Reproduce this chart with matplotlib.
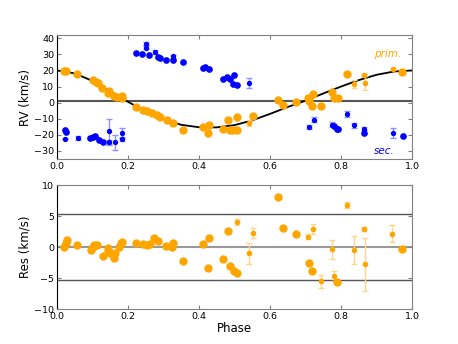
import numpy as np
import matplotlib
matplotlib.use("Agg")
import matplotlib.pyplot as plt

# orbit model curve
curve_phase = [0.00, 0.05, 0.10, 0.15, 0.20, 0.25, 0.30, 0.35, 0.40, 0.45, 0.50,
               0.55, 0.60, 0.65, 0.70, 0.75, 0.80, 0.85, 0.90, 0.95, 1.00]
curve_rv = [20.0, 18.2, 13.5, 7.0, 0.5, -5.5, -10.3, -13.8, -15.3, -15.4, -14.0,
            -11.0, -7.0, -2.7, 1.2, 5.7, 10.0, 14.0, 17.3, 19.4, 20.0]

gamma = 1.2
res_band = 5.3

# primary star RVs (phase, rv, err; err 0 = no bar)
prim_phase = [0.020, 0.025, 0.057, 0.100, 0.109, 0.115, 0.128, 0.143, 0.146, 0.161,
              0.168, 0.182, 0.184, 0.223, 0.243, 0.253, 0.267, 0.281, 0.290, 0.309,
              0.328, 0.356, 0.412, 0.424, 0.428, 0.469, 0.481, 0.487, 0.497, 0.506,
              0.506, 0.541, 0.553, 0.622, 0.638, 0.672, 0.708, 0.711, 0.719, 0.722,
              0.744, 0.776, 0.781, 0.791, 0.818, 0.837, 0.866, 0.868, 0.947, 0.973]
prim_rv = [19.8, 19.5, 18.1, 14.0, 13.0, 12.0, 8.9, 5.8, 7.4, 4.3,
           3.7, 4.1, 2.7, -2.5, -4.5, -5.5, -6.2, -7.6, -9.2, -11.1,
           -12.7, -16.9, -15.2, -18.9, -14.2, -16.4, -11.1, -16.9, -17.2, -9.2,
           -17.2, -12.7, -8.6, 1.7, -1.4, 0.2, 2.7, 1.0, -2.0, 5.2,
           -2.0, 6.8, 2.7, 2.7, 17.5, 11.5, 17.1, 12.0, 21.2, 19.1]
prim_err = [0, 0, 0, 0, 0, 0, 0, 0, 0, 0,
            0, 0, 0, 0, 0, 0, 0, 0, 0, 0,
            0, 0, 0, 0, 0, 0, 0, 0, 0, 0,
            0, 1.7, 0, 0, 0, 0, 0, 0, 0, 0,
            0, 0, 0, 0, 0, 2.5, 0.5, 4.4, 0.6, 0]

# secondary star RVs
sec_phase = [0.023, 0.024, 0.023, 0.058, 0.093, 0.100, 0.107, 0.117, 0.129, 0.146,
             0.146, 0.163, 0.182, 0.182, 0.222, 0.240, 0.250, 0.250, 0.259, 0.276,
             0.284, 0.290, 0.307, 0.326, 0.326, 0.356, 0.410, 0.416, 0.429, 0.467,
             0.478, 0.487, 0.500, 0.497, 0.506, 0.541, 0.710, 0.723, 0.776, 0.781,
             0.788, 0.792, 0.818, 0.837, 0.866, 0.866, 0.947, 0.974]
sec_rv = [-16.9, -18.5, -22.4, -22.0, -22.0, -21.4, -20.6, -23.0, -24.5, -17.9,
          -24.7, -24.7, -18.9, -22.6, 30.9, 30.5, 34.2, 36.7, 29.4, 31.5,
          28.4, 28.0, 26.4, 28.8, 26.8, 25.1, 21.8, 22.2, 20.8, 14.4,
          16.0, 15.0, 17.1, 11.5, 11.0, 12.3, -15.2, -10.7, -13.8, -14.6,
          -16.2, -16.7, -7.2, -14.2, -16.2, -18.9, -18.9, -21.0]
sec_err = [0, 0, 0.5, 1.0, 0, 0, 0, 0, 0, 8.0,
           1.5, 4.7, 3.3, 1.5, 0, 0, 1.0, 0.8, 0, 1.0,
           0, 0, 0, 0.8, 0, 0, 0, 0, 0, 0,
           0, 0, 0, 0, 0, 3.0, 1.2, 1.5, 1.5, 0,
           0, 0, 1.7, 1.7, 1.0, 0, 3.0, 0]

# residuals of the primary
res_phase = [0.021, 0.025, 0.027, 0.057, 0.096, 0.100, 0.105, 0.112, 0.129, 0.145,
             0.145, 0.150, 0.161, 0.163, 0.176, 0.180, 0.182, 0.222, 0.243, 0.253,
             0.262, 0.274, 0.285, 0.308, 0.325, 0.326, 0.356, 0.412, 0.426, 0.429,
             0.467, 0.481, 0.487, 0.498, 0.506, 0.508, 0.541, 0.553, 0.622, 0.638,
             0.672, 0.708, 0.709, 0.719, 0.722, 0.744, 0.776, 0.780, 0.789, 0.817,
             0.836, 0.865, 0.867, 0.945, 0.972]
res_val = [0.1, 0.7, 1.2, 0.35, -0.45, 0.0, 0.3, 0.3, -1.4, -0.2,
           -0.6, -1.0, -1.8, -0.9, 0.1, 0.6, 0.9, 0.6, 0.5, 0.35,
           0.5, 1.4, 1.0, 0.25, 0.1, 0.6, -2.3, 0.45, -3.4, 1.4,
           -1.9, 2.65, -3.0, -3.8, 4.1, -4.2, -1.0, 2.35, 8.0, 3.1,
           2.1, 1.7, -2.5, -3.9, 2.9, -5.5, -0.35, -4.6, -5.55, 6.8,
           -0.45, 2.9, -2.75, 2.2, -0.35]
res_err = [0, 0, 0, 0, 0, 0, 0, 0, 0, 0,
           0, 0, 0, 0, 0, 0, 0, 0, 0, 0,
           0, 0, 0, 0, 0, 0, 0, 0, 0, 0,
           0, 0, 0, 0, 0.5, 0, 1.7, 0.8, 0, 0,
           0, 0.4, 0, 0, 0.8, 1.0, 1.5, 0.8, 0, 0.5,
           2.3, 0.3, 4.3, 1.3, 0]

ORANGE = '#FFA500'
BLUE = '#0000FF'


def draw_points(ax, x, y, err, color, ecolor, big, small):
    x = np.array(x)
    y = np.array(y)
    err = np.array(err)
    has = err > 0
    ax.errorbar(x[has], y[has], yerr=err[has], fmt='o', color=color, ms=small,
                ecolor=ecolor, elinewidth=1, capsize=2.5, zorder=3)
    ax.plot(x[~has], y[~has], 'o', color=color, ms=big, zorder=3)


def style(ax):
    ax.tick_params(direction='in', length=3, width=0.8, color='gray',
                   top=True, right=True, labelsize=6.8, pad=2)
    for side in ['top', 'right', 'bottom']:
        ax.spines[side].set_color('gray')
    ax.spines['left'].set_color('black')
    ax.set_xlim(0, 1)
    ax.set_xticks([0.0, 0.2, 0.4, 0.6, 0.8, 1.0])


def main():
    fig = plt.figure(figsize=(4.58, 3.44), dpi=100)
    ax1 = fig.add_axes([0.1245, 0.538, 0.775, 0.360])
    ax2 = fig.add_axes([0.1245, 0.101, 0.775, 0.361])

    # top: radial velocities
    ax1.axhline(gamma, color='#555555', lw=1.5, zorder=1)
    ax1.plot(curve_phase, curve_rv, '-', color='k', lw=1.3, zorder=2)
    draw_points(ax1, sec_phase, sec_rv, sec_err, BLUE, '#9090ff', 3.8, 2.8)
    draw_points(ax1, prim_phase, prim_rv, prim_err, ORANGE, '#ffd590', 5.0, 3.0)

    ax1.text(0.97, 0.845, 'prim.', color=ORANGE, style='italic', fontsize=7.5,
             ha='right', va='center', transform=ax1.transAxes)
    ax1.text(0.95, 0.06, 'sec.', color=BLUE, style='italic', fontsize=7.5,
             ha='right', va='center', transform=ax1.transAxes)
    style(ax1)
    ax1.set_ylim(-35, 42)
    ax1.set_yticks([-30, -20, -10, 0, 10, 20, 30, 40])
    ax1.set_ylabel('RV (km/s)', fontsize=8.5, labelpad=2)

    # bottom: residuals
    ax2.axhline(0, color='#999999', lw=1.5, zorder=1)
    ax2.axhline(res_band, color='#555555', lw=1.0, zorder=1)
    ax2.axhline(-res_band, color='#555555', lw=1.0, zorder=1)
    draw_points(ax2, res_phase, res_val, res_err, ORANGE, '#ffd590', 5.0, 3.0)
    style(ax2)
    ax2.set_ylim(-10, 10)
    ax2.set_yticks([-10, -5, 0, 5, 10])
    ax2.set_ylabel('Res (km/s)', fontsize=8.5, labelpad=2)
    ax2.set_xlabel('Phase', fontsize=8.5, labelpad=1)

    fig.savefig('out.png', dpi=100)


if __name__ == "__main__":
    main()
